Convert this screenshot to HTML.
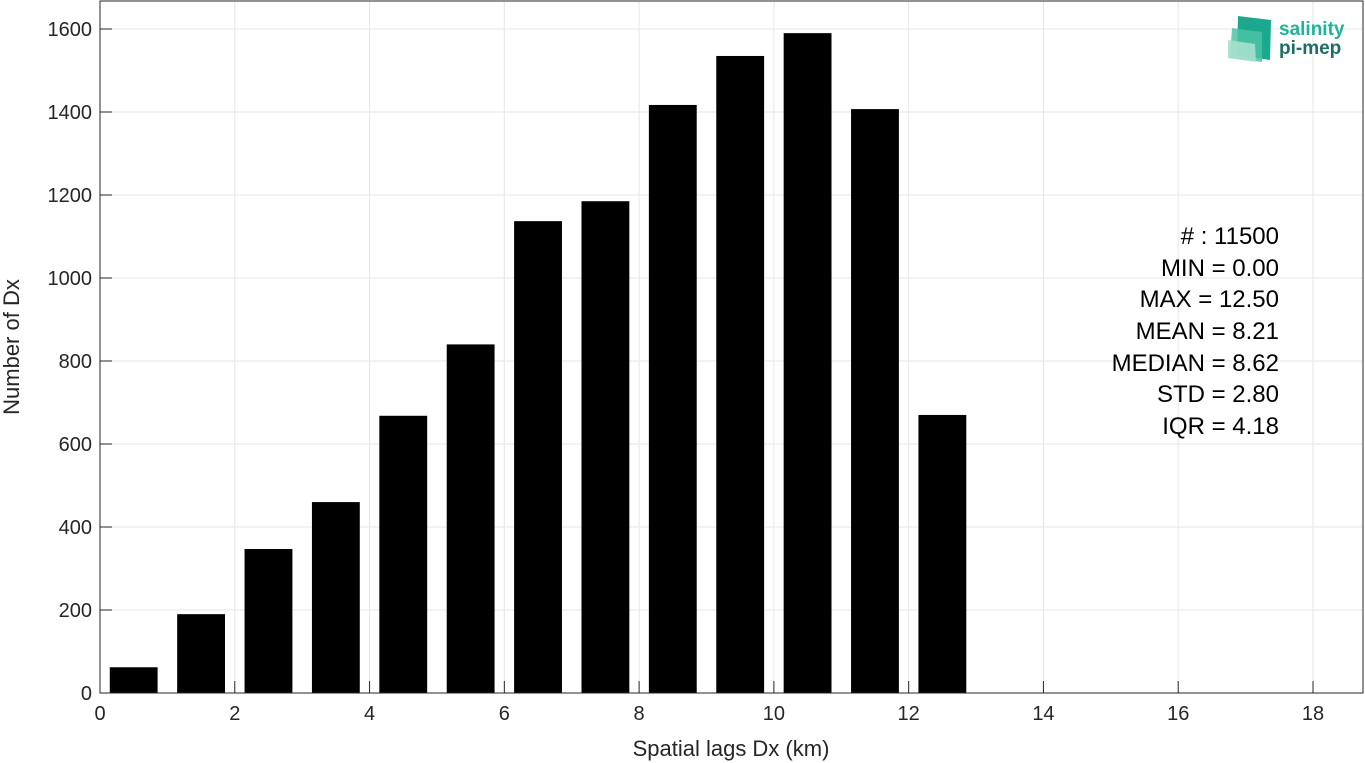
<!DOCTYPE html>
<html><head><meta charset="utf-8"><style>
body{margin:0;background:#fff;}
svg{display:block;font-family:"Liberation Sans","DejaVu Sans",sans-serif;}
</style></head><body>
<svg id="c" width="1365" height="763">
<g id="grid"></g>
<g id="bars"></g>
<rect x="100" y="1" width="1263" height="692" fill="none" stroke="#262626" stroke-width="1"/>
<g id="xt"></g>
<g id="yt"></g>
<text x="731" y="756" font-size="22" fill="#262626" text-anchor="middle">Spatial lags Dx (km)</text>
<text transform="translate(19,347) rotate(-90)" font-size="22" fill="#262626" text-anchor="middle">Number of Dx</text>
<g font-size="24" fill="#000" text-anchor="end">
<text x="1279" y="244">#  : 11500</text>
<text x="1279" y="276">MIN = 0.00</text>
<text x="1279" y="307">MAX =  12.50</text>
<text x="1279" y="339">MEAN = 8.21</text>
<text x="1279" y="371">MEDIAN = 8.62</text>
<text x="1279" y="402">STD = 2.80</text>
<text x="1279" y="434">IQR = 4.18</text>
</g>
<g>
<polygon points="1238,16 1271,20 1270,60 1237,55" fill="#1aa98f"/>
<polygon points="1232,28 1262,32 1262,62 1230,58" fill="#4cc3a6" opacity="0.85"/>
<polygon points="1228,40 1255,44 1256,62 1228,58" fill="#a4e0cc" opacity="0.9"/>
<text x="1279" y="35" font-size="19" font-weight="bold" fill="#1fb39a">salinity</text>
<text x="1279" y="54" font-size="19" font-weight="bold" fill="#1e6e63">pi-mep</text>
</g>
</svg>
<script>
const categories=[0.5,1.5,2.5,3.5,4.5,5.5,6.5,7.5,8.5,9.5,10.5,11.5,12.5];
const counts=[62,190,347,460,668,840,1137,1185,1417,1535,1590,1407,670];
const xTicks=[0,2,4,6,8,10,12,14,16,18];
const yTicks=[0,200,400,600,800,1000,1200,1400,1600];
const NS='http://www.w3.org/2000/svg';
const X=v=>100+v*(1313-100)/18;
const Y=v=>693-v*(693-29)/1600;
function mk(t,a,p){const e=document.createElementNS(NS,t);for(const k in a)e.setAttribute(k,a[k]);p.appendChild(e);return e;}
const g=document.getElementById('grid'),b=document.getElementById('bars'),xt=document.getElementById('xt'),yt=document.getElementById('yt');
xTicks.forEach(v=>{
 const l=mk('line',{x1:X(v),x2:X(v),y1:1,y2:693,stroke:'#e6e6e6'},g);
 
 mk('line',{x1:X(v),x2:X(v),y1:693,y2:681,stroke:'#262626'},xt);
 const t=mk('text',{x:X(v),y:720,'font-size':20,fill:'#262626','text-anchor':'middle'},xt);t.textContent=v;
 
});
yTicks.forEach(v=>{
 const l=mk('line',{x1:100,x2:1363,y1:Y(v),y2:Y(v),stroke:'#e6e6e6'},g);
 
 mk('line',{x1:100,x2:112,y1:Y(v),y2:Y(v),stroke:'#262626'},yt);
 const t=mk('text',{x:92,y:Y(v)+7,'font-size':20,fill:'#262626','text-anchor':'end'},yt);t.textContent=v;
 
});
const w=0.71;
categories.forEach((c,i)=>{
 const r=mk('rect',{x:X(c-w/2),y:Y(counts[i]),width:X(w)-X(0),height:Y(0)-Y(counts[i]),fill:'#000'},b);
 
});
</script>
</body></html>
